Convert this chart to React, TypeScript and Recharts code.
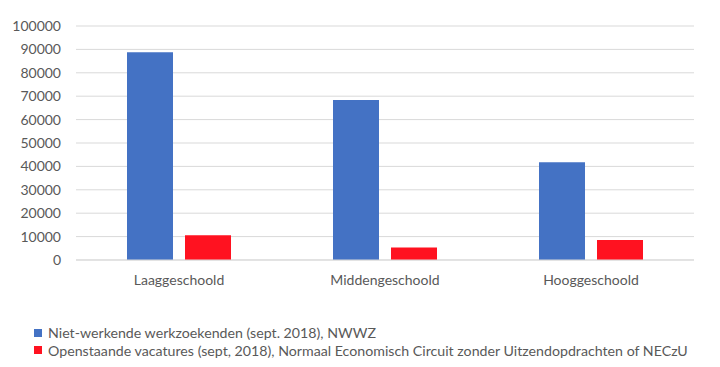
import { BarChart, Bar, XAxis, YAxis, CartesianGrid, Legend } from 'recharts'

const categories = ['Laaggeschoold', 'Middengeschoold', 'Hooggeschoold']
const werkzoekenden = [88800, 68400, 41800]
const vacatures = [10600, 5300, 8500]
const yTicks = [0, 10000, 20000, 30000, 40000, 50000, 60000, 70000, 80000, 90000, 100000]

const seriesNames = {
  nwwz: 'Niet-werkende werkzoekenden (sept. 2018), NWWZ',
  necz: 'Openstaande vacatures (sept, 2018), Normaal Economisch Circuit zonder Uitzendopdrachten of NECzU',
}

const data = categories.map((name, i) => ({
  name,
  nwwz: werkzoekenden[i],
  necz: vacatures[i],
}))

const font = 'Lato, "Open Sans", sans-serif'
const textColor = '#595959'

function LegendBox({ payload }: any) {
  return (
    <div style={{ height: 35, paddingLeft: 34, fontFamily: font, fontSize: 14.2, color: textColor }}>
      {(payload || []).map((p: any) => (
        <div key={p.value} style={{ display: 'flex', alignItems: 'center', height: 17.5, whiteSpace: 'nowrap' }}>
          <span style={{ width: 8, height: 8, background: p.color, marginRight: 6, display: 'inline-block' }} />
          {p.value}
        </div>
      ))}
    </div>
  )
}

export default function App() {
  return (
    <div style={{ position: 'absolute', left: 0, top: 0, background: '#fff' }}>
      <BarChart
        width={720}
        height={367}
        data={data}
        margin={{ top: 26, right: 26, left: 0, bottom: 8 }}
        barSize={46}
        barGap={12}
      >
        <CartesianGrid vertical={false} stroke="#d9d9d9" />
        <XAxis
          dataKey="name"
          height={64}
          axisLine={{ stroke: '#d9d9d9' }}
          tickLine={false}
          tickSize={0}
          tickMargin={15}
          tick={{ fill: textColor, fontSize: 14, fontFamily: font }}
        />
        <YAxis
          width={76}
          domain={[0, 100000]}
          ticks={yTicks}
          axisLine={false}
          tickLine={false}
          tickSize={0}
          tickMargin={15}
          tick={{ fill: textColor, fontSize: 14, fontFamily: font }}
        />
        <Legend verticalAlign="bottom" align="left" content={<LegendBox />} />
        <Bar dataKey="nwwz" name={seriesNames.nwwz} fill="#4472C4" isAnimationActive={false} />
        <Bar dataKey="necz" name={seriesNames.necz} fill="#FF1220" isAnimationActive={false} />
      </BarChart>
    </div>
  )
}
